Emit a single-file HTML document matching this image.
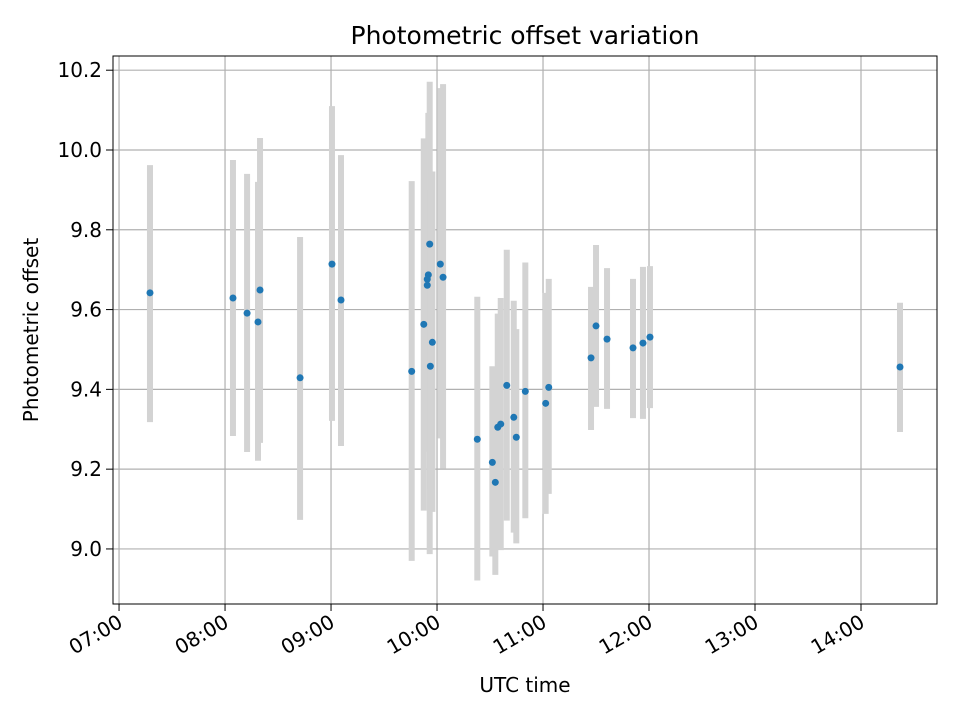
<!DOCTYPE html>
<html><head><meta charset="utf-8"><style>
body{margin:0;background:#fff;font-family:"DejaVu Sans","Liberation Sans",sans-serif}
</style></head><body>
<svg id="chart" width="960" height="720" xmlns="http://www.w3.org/2000/svg" style="font-family:'DejaVu Sans','Liberation Sans',sans-serif">
<rect width="960" height="720" fill="#fff"/>
<g id="grid"></g>
<g id="bars"></g>
<g id="pts"></g>
<rect x="113" y="56" width="824" height="548" fill="none" stroke="#000" stroke-width="1"/>
<g id="ticks"></g>
<text x="525" y="44" text-anchor="middle" font-size="25">Photometric offset variation</text>
<text x="525" y="692" text-anchor="middle" font-size="20">UTC time</text>
<text transform="translate(38,330) rotate(-90)" text-anchor="middle" font-size="20">Photometric offset</text>
</svg>
<script>
const hours=[7.292,8.075,8.208,8.311,8.330,8.708,9.009,9.094,9.761,9.875,9.931,9.918,9.908,9.908,9.956,9.937,10.031,10.057,10.380,10.522,10.550,10.573,10.601,10.658,10.724,10.748,10.833,11.025,11.054,11.453,11.500,11.604,11.849,11.943,12.009,14.368];
const offsets=[9.642,9.629,9.591,9.569,9.649,9.429,9.714,9.624,9.445,9.563,9.764,9.687,9.676,9.661,9.518,9.458,9.714,9.681,9.275,9.217,9.167,9.305,9.313,9.410,9.330,9.280,9.395,9.365,9.405,9.479,9.559,9.526,9.504,9.516,9.531,9.456];
const errHigh=[9.962,9.975,9.940,9.920,10.030,9.782,10.110,9.987,9.922,10.029,10.171,10.093,9.950,10.000,9.946,9.900,10.155,10.165,9.632,9.458,9.404,9.590,9.629,9.750,9.622,9.551,9.718,9.642,9.677,9.657,9.762,9.704,9.677,9.707,9.709,9.617];
const errLow=[9.318,9.283,9.243,9.221,9.266,9.073,9.321,9.258,8.970,9.096,8.987,9.244,9.300,9.250,9.093,9.150,9.277,9.202,8.921,8.981,8.935,9.020,8.997,9.071,9.041,9.014,9.077,9.088,9.138,9.298,9.356,9.351,9.328,9.326,9.353,9.293];
const xTicks=[7,8,9,10,11,12,13,14];
const xTickLabels=["07:00","08:00","09:00","10:00","11:00","12:00","13:00","14:00"];
const yTicks=[9.0,9.2,9.4,9.6,9.8,10.0,10.2];
const yTickLabels=["9.0","9.2","9.4","9.6","9.8","10.0","10.2"];
const L=113,R=937,T=56,B=604,xMin=6.943,xMax=14.717,yMin=8.862,yMax=10.2356;
const X=h=>L+(h-xMin)/(xMax-xMin)*(R-L);
const Y=v=>B-(v-yMin)/(yMax-yMin)*(B-T);
const NS="http://www.w3.org/2000/svg";
function mk(tag,attrs,parent){const e=document.createElementNS(NS,tag);for(const k in attrs)e.setAttribute(k,attrs[k]);parent.appendChild(e);return e;}
const grid=document.getElementById('grid'),ticks=document.getElementById('ticks'),bars=document.getElementById('bars'),pts=document.getElementById('pts');
xTicks.forEach((t,i)=>{const x=X(t);
 const g=mk('line',{x1:x,x2:x,y1:T,y2:B,stroke:'#b0b0b0','stroke-width':1.2},grid);
 
 
 const tk=mk('line',{x1:x,x2:x,y1:B,y2:B+7,stroke:'#000'},ticks);
 
 
 const tx=mk('text',{'font-size':20,'text-anchor':'end',transform:`translate(${x+5},${B+22}) rotate(-30)`},ticks);
 tx.textContent=xTickLabels[i];
 
 
});
yTicks.forEach((t,i)=>{const y=Y(t);
 const g=mk('line',{x1:L,x2:R,y1:y,y2:y,stroke:'#b0b0b0','stroke-width':1.2},grid);
 
 
 const tk=mk('line',{x1:L-7,x2:L,y1:y,y2:y,stroke:'#000'},ticks);
 
 
 const tx=mk('text',{x:L-11,y:y+7,'font-size':20,'text-anchor':'end'},ticks);
 tx.textContent=yTickLabels[i];
 
 
});
hours.forEach((h,i)=>{const x=X(h);
 const b=mk('line',{x1:x,x2:x,y1:Y(errHigh[i]),y2:Y(errLow[i]),stroke:'#d3d3d3','stroke-width':6},bars);
 
 
});
hours.forEach((h,i)=>{
 const c=mk('circle',{cx:X(h),cy:Y(offsets[i]),r:3.5,fill:'#1f77b4'},pts);
 
 
});
</script>
</body></html>
